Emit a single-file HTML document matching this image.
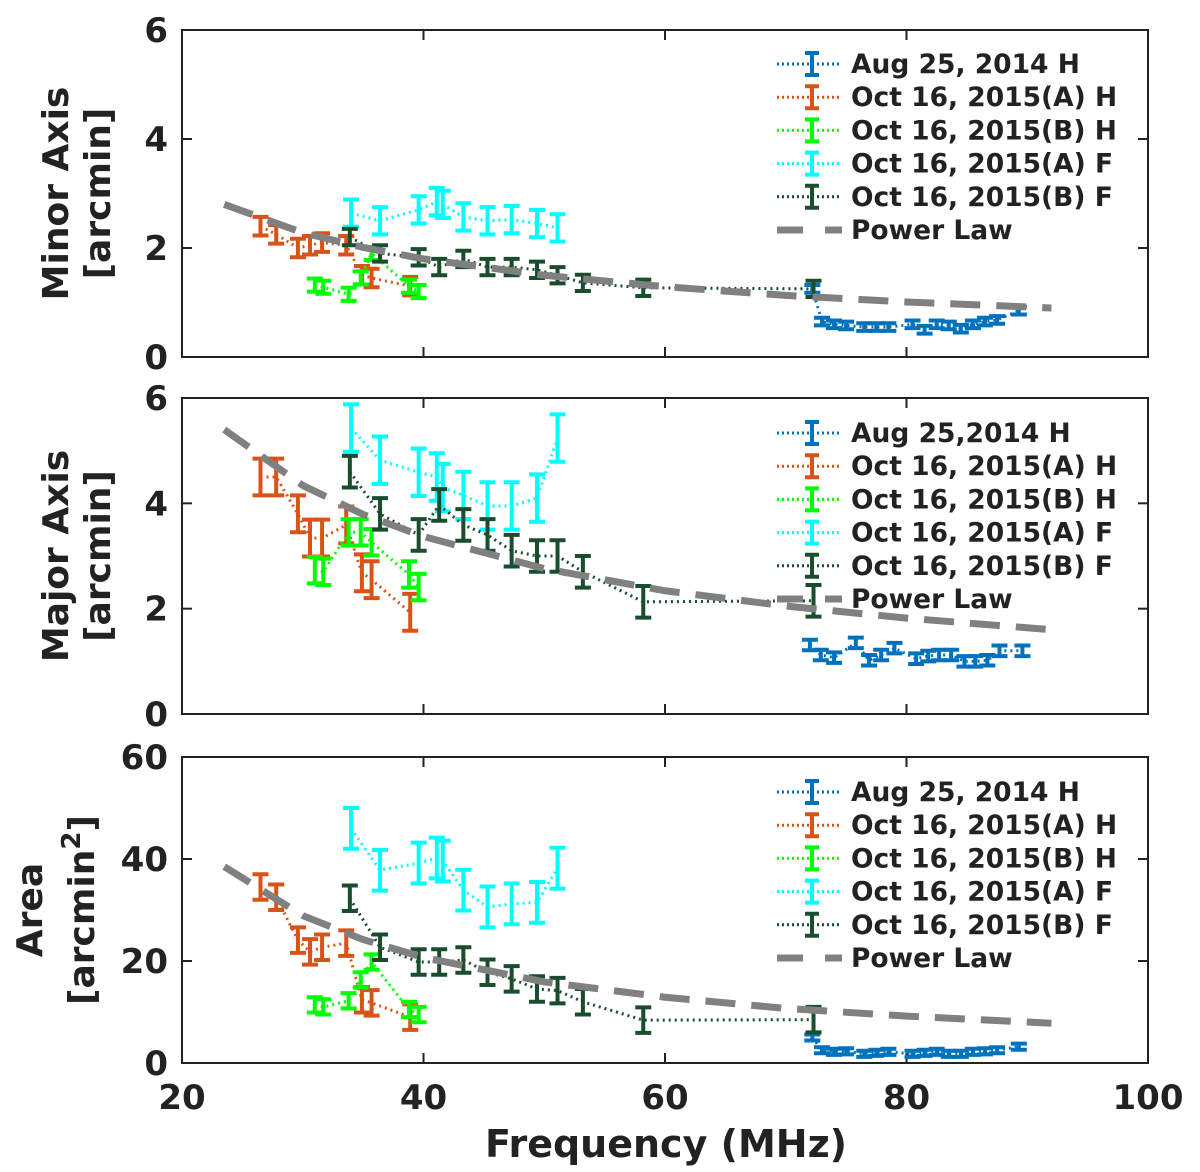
<!DOCTYPE html>
<html><head><meta charset="utf-8"><style>
body{margin:0;background:#fff;}
svg text{font-family:"DejaVu Sans","Liberation Sans",sans-serif;font-weight:bold;fill:#222;}
</style></head><body>
<svg id="chart" width="1200" height="1167" xmlns="http://www.w3.org/2000/svg"></svg>
<script>
// ---- data ----
const plF = [23.5,30,35,40,50,60,70,80,92];
const plMinor = [2.8,2.28,2.01,1.80,1.50,1.29,1.13,1.01,0.90];
const plMajor = [5.4,4.34,3.79,3.37,2.76,2.34,2.05,1.82,1.60];
const plArea = [38.5,28.9,24.2,20.7,15.9,12.9,10.7,9.2,7.8];

const blueF = [72.2,73,74,75,76.5,77.5,78.5,80.5,81.5,82.5,83.5,84.5,85.5,86.5,87.5,89.3];
const blueMinor = [1.25,0.65,0.6,0.58,0.55,0.55,0.55,0.6,0.5,0.6,0.58,0.52,0.6,0.65,0.68,0.85];
const blueF2 = [72,72.9,74,75.8,76.9,77.9,79,80.8,81.8,82.7,83.7,84.8,85.7,86.7,87.7,89.6];
const blueMajor = [1.31,1.12,1.07,1.35,1.02,1.12,1.25,1.05,1.1,1.12,1.12,1.0,1.0,1.02,1.2,1.2];
const blueArea = [5,2.5,2.2,2.3,1.8,2.0,2.2,1.8,2.0,2.2,1.8,1.8,2.2,2.3,2.5,3.2];

const orangeF = [26.5,27.8,29.6,30.6,31.6,33.6,34.9,35.7,38.9];
const orangeMinor = [2.4,2.25,2.0,2.05,2.1,2.05,1.5,1.45,1.3];
const orangeMajor = [4.5,4.5,3.8,3.34,3.34,3.59,2.68,2.55,1.93];
const orangeArea = [34.5,32.5,24.1,21.8,22.7,23.5,12.4,11.8,9.0];

const greenF = [31.0,31.7,33.8,34.8,35.7,38.8,39.6];
const greenMinor = [1.32,1.28,1.15,1.45,1.9,1.3,1.2];
const greenMajor = [2.73,2.7,3.45,3.45,3.26,2.65,2.41];
const greenArea = [11.4,11.0,12.2,16.3,19.8,10.5,9.5];

const cyanF = [34,36.4,39.6,41.1,41.6,43.3,45.3,47.3,49.4,51.1];
const cyanMinor = [2.64,2.5,2.7,2.85,2.8,2.57,2.5,2.52,2.45,2.37];
const cyanMajor = [5.43,4.82,4.59,4.5,4.3,4.15,3.95,3.95,4.1,5.24];
const cyanArea = [46,37.8,39.2,40.2,39.6,33.9,30.6,31.2,31.5,38.2];

const dgF = [33.9,36.4,39.6,41.3,43.3,45.3,47.3,49.4,51.1,53.2,58.2,72.3];
const dgMinor = [2.2,1.9,1.83,1.65,1.8,1.65,1.65,1.6,1.5,1.36,1.27,1.25];
const dgMajor = [4.6,3.8,3.4,3.97,3.59,3.4,3.1,3.0,3.0,2.7,2.13,2.15];
const dgArea = [32.3,22.7,19.8,19.8,20.2,17.8,16.5,14.5,14.2,12.0,8.4,8.5];

const yTicks1 = [0,2,4,6];
const yTicks3 = [0,20,40,60];
const xTicks = [20,40,60,80,100];
const legendLabels1 = ["Aug 25, 2014 H","Oct 16, 2015(A) H","Oct 16, 2015(B) H","Oct 16, 2015(A) F","Oct 16, 2015(B) F","Power Law"];
const legendLabels2 = ["Aug 25,2014 H","Oct 16, 2015(A) H","Oct 16, 2015(B) H","Oct 16, 2015(A) F","Oct 16, 2015(B) F","Power Law"];

// ---- drawing ----
const NS="http://www.w3.org/2000/svg";
const svg=document.getElementById('chart');
function el(tag,attrs,parent){const e=document.createElementNS(NS,tag);for(const k in attrs)e.setAttribute(k,attrs[k]);(parent||svg).appendChild(e);return e;}
const X0=182,X1=1148;
function xs(f){return X0+(f-20)*(X1-X0)/80;}
const colors={blue:"#0072BD",orange:"#D95319",green:"#00FF00",cyan:"#00FFFF",dg:"#1A4D2E"};

function panel(name,top,bot,ymax,ticks,errs,series,pl,legendY,labels,title1,title2,t1x,t2x,sup){
  const g=el('g',{});
  
  
  const ys=v=>bot-(v/ymax)*(bot-top);
  el('rect',{x:X0,y:top,width:X1-X0,height:bot-top,fill:'#fff',stroke:'#222','stroke-width':2},g);
  ticks.forEach(t=>{
    el('line',{x1:X0,x2:X0+10,y1:ys(t),y2:ys(t),stroke:'#222','stroke-width':2},g);
    el('line',{x1:X1,x2:X1-10,y1:ys(t),y2:ys(t),stroke:'#222','stroke-width':2},g);
    const tx=el('text',{x:X0-14,y:ys(t)+12,'font-size':34,'text-anchor':'end'},g);
    tx.textContent=t;
    
    
  });
  xTicks.forEach(t=>{
    el('line',{x1:xs(t),x2:xs(t),y1:bot,y2:bot-10,stroke:'#222','stroke-width':2},g);
    el('line',{x1:xs(t),x2:xs(t),y1:top,y2:top+10,stroke:'#222','stroke-width':2},g);
  });
  const cy=(top+bot)/2;
  const a=el('text',{x:t1x,y:cy,'font-size':36,'text-anchor':'middle',transform:`rotate(-90 ${t1x} ${cy})`},g);
  a.textContent=title1;
  
  
  const b=el('text',{x:t2x,y:cy,'font-size':36,'text-anchor':'middle',transform:`rotate(-90 ${t2x} ${cy})`},g);
  b.textContent=title2;
  if(sup){const ts=el('tspan',{dy:-14,'font-size':26},b);ts.textContent='2';const t3=el('tspan',{dy:14},b);t3.textContent=']';}
  
  
  series.forEach((s,si)=>{
    const sg=el('g',{},g);
    
    
    const pts=s.f.map((f,i)=>xs(f)+','+ys(s.v[i])).join(' ');
    el('polyline',{points:pts,fill:'none',stroke:s.c,'stroke-width':3,'stroke-dasharray':'2 4'},sg);
    s.f.forEach((f,i)=>{
      const x=xs(f),y1=ys(s.v[i]-s.e),y2=ys(s.v[i]+s.e);
      const m=el('path',{d:`M${x},${y1}V${y2}M${x-8},${y1}H${x+8}M${x-8},${y2}H${x+8}`,stroke:s.c,'stroke-width':4,fill:'none'},sg);
      
      
    });
  });
  const pp=pl.map((v,i)=>xs(plF[i])+','+ys(v)).join(' ');
  const pline=el('polyline',{points:pp,fill:'none',stroke:'#808080','stroke-width':7,'stroke-dasharray':'30 16'},g);
  
  
  const cols=[colors.blue,colors.orange,colors.green,colors.cyan,colors.dg];
  labels.forEach((lab,i)=>{
    const y=legendY+i*33.2;
    const lg=el('g',{},g);
    
    
    if(i<5){
      el('line',{x1:777,x2:842,y1:y,y2:y,stroke:cols[i],'stroke-width':3,'stroke-dasharray':'2 3'},lg);
      el('path',{d:`M812,${y-11}V${y+11}M805,${y-11}H819M805,${y+11}H819`,stroke:cols[i],'stroke-width':4,fill:'none'},lg);
    } else {
      el('line',{x1:777,x2:842,y1:y,y2:y,stroke:'#808080','stroke-width':7,'stroke-dasharray':'26 22'},lg);
    }
    const t=el('text',{x:851,y:y+9,'font-size':26.5},lg);
    t.textContent=lab;
  });
}
function S(key,c,f,v,e){return {key,c,f,v,e};}
panel('minor-axis',30,357,6,yTicks1,null,[
  S('aug25',colors.blue,blueF,blueMinor,0.07),
  S('oct16a-h',colors.orange,orangeF,orangeMinor,0.17),
  S('oct16b-h',colors.green,greenF,greenMinor,0.12),
  S('oct16a-f',colors.cyan,cyanF,cyanMinor,0.25),
  S('oct16b-f',colors.dg,dgF,dgMinor,0.15)
],plMinor,64,legendLabels1,'Minor Axis','[arcmin]',68,110,false);
panel('major-axis',398,714,6,yTicks1,null,[
  S('aug25',colors.blue,blueF2,blueMajor,0.1),
  S('oct16a-h',colors.orange,orangeF,orangeMajor,0.35),
  S('oct16b-h',colors.green,greenF,greenMajor,0.25),
  S('oct16a-f',colors.cyan,cyanF,cyanMajor,0.45),
  S('oct16b-f',colors.dg,dgF,dgMajor,0.3)
],plMajor,433,legendLabels2,'Major Axis','[arcmin]',68,110,false);
panel('area',757,1063,60,yTicks3,null,[
  S('aug25',colors.blue,blueF,blueArea,0.6),
  S('oct16a-h',colors.orange,orangeF,orangeArea,2.5),
  S('oct16b-h',colors.green,greenF,greenArea,1.5),
  S('oct16a-f',colors.cyan,cyanF,cyanArea,4),
  S('oct16b-f',colors.dg,dgF,dgArea,2.5)
],plArea,792,legendLabels1,'Area','[arcmin',42,94,true);
xTicks.forEach(t=>{
  const tx=el('text',{x:xs(t),y:1109,'font-size':34,'text-anchor':'middle'});
  tx.textContent=t;
  
  
});
const xt=el('text',{x:666,y:1157,'font-size':38,'text-anchor':'middle'});
xt.textContent='Frequency (MHz)';


</script>
</body></html>
